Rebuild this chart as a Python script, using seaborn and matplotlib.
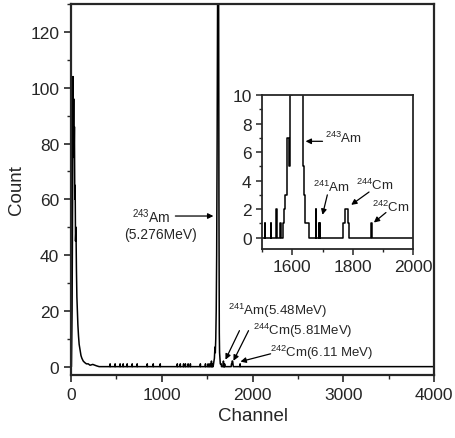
import numpy as np
import pandas as pd
import matplotlib
matplotlib.use("Agg")
import matplotlib.pyplot as plt
import seaborn as sns

# ============================================================
# Spectrum values
# ============================================================
# continuous parts (low-channel noise, 243Am peak, 244Cm group)
cont_channels = [0, 5, 12, 18, 22, 26, 30, 34, 38, 42, 46, 50, 55, 60, 65, 70,
                 76, 83, 90, 100, 110, 120, 135, 150, 170, 190, 210, 240, 280, 310,
                 1566, 1570, 1575, 1580, 1586, 1590, 1595, 1600, 1605, 1610, 1615,
                 1620, 1625, 1630, 1634, 1637, 1641, 1645, 1650, 1655, 1658,
                 1765, 1768, 1772, 1776, 1781, 1785, 1788, 4000]
cont_counts = [0, 0, 20, 60, 104, 80, 96, 75, 86, 60, 65, 45, 50, 35, 25, 20,
               15, 11, 8, 6, 4, 3, 2, 1.5, 1, 1, 0.5, 0.8, 0.3, 0,
               0, 1, 2, 3, 7, 5, 10, 20, 40, 80, 130,
               200, 170, 60, 12, 5, 3, 1, 1, 1, 0,
               0, 1, 1, 2, 2, 1, 0, 0]

# isolated single-channel counts
spike_channels = [431, 486, 541, 575, 619, 674, 729, 840, 906, 983, 1171, 1204,
                  1240, 1260, 1290, 1315, 1425, 1481, 1510, 1530, 1547, 1560,
                  1679, 1688, 1692, 1863]
spike_counts = [1, 1, 1, 1, 1, 1, 1, 1, 1, 1, 1, 1,
                1, 1, 1, 1, 1, 1, 1, 1, 2, 1,
                2, 1, 1, 1]

# ============================================================
# Build table (spikes sit on a zero baseline)
# ============================================================
rows = list(zip(cont_channels, cont_counts))
for c, n in zip(spike_channels, spike_counts):
    rows += [(c - 1.5, 0), (c - 0.5, n), (c + 0.5, n), (c + 1.5, 0)]
df = pd.DataFrame(rows, columns=["Channel", "Count"]).sort_values("Channel")

sns.set_style("ticks")
plt.rcParams["font.family"] = ["Liberation Sans", "DejaVu Sans"]
plt.rcParams["mathtext.fontset"] = "custom"
plt.rcParams["mathtext.rm"] = "Liberation Sans"
plt.rcParams["mathtext.it"] = "Liberation Sans"

fig = plt.figure(figsize=(4.55, 4.39), dpi=100)

# ------------------------------
# Main spectrum
# ------------------------------
ax = fig.add_axes([0.156, 0.1435, 0.798, 0.845])
sns.lineplot(data=df, x="Channel", y="Count", ax=ax, color="black", lw=1.1,
             sort=False, estimator=None)
ax.set_xlim(0, 4000)
ax.set_ylim(-3, 130)
ax.set_xticks(range(0, 4001, 1000))
ax.set_xticks(range(0, 4001, 500), minor=True)
ax.set_yticks(range(0, 121, 20))
ax.set_yticks(range(0, 131, 10), minor=True)
ax.tick_params(which="major", length=5, width=1.2, labelsize=12.5, direction="out")
ax.tick_params(which="minor", length=3, width=1, direction="out")
for s in ax.spines.values():
    s.set_visible(True)
    s.set_linewidth(1.6)
ax.set_xlabel("Channel", fontsize=13.5)
ax.set_ylabel("Count", fontsize=13.5)

arrow = dict(arrowstyle="-|>", lw=0.9, color="black", mutation_scale=8,
             shrinkA=0, shrinkB=0)
ax.text(884, 54, "$^{243}$Am", fontsize=10, ha="center", va="center")
ax.text(983, 47.5, "(5.276MeV)", fontsize=10, ha="center", va="center")
ax.annotate("", xy=(1569, 54), xytext=(1150, 54), arrowprops=arrow)

ax.text(1735, 20.3, "$^{241}$Am(5.48MeV)", fontsize=9.5, ha="left", va="center")
ax.text(2000, 13.0, "$^{244}$Cm(5.81MeV)", fontsize=9.5, ha="left", va="center")
ax.text(2188, 5.4, "$^{242}$Cm(6.11 MeV)", fontsize=9.5, ha="left", va="center")
ax.annotate("", xy=(1702, 2.5), xytext=(1856, 12.9), arrowprops=arrow)
ax.annotate("", xy=(1790, 2.1), xytext=(1956, 12.9), arrowprops=arrow)
ax.annotate("", xy=(1867, 1.8), xytext=(2199, 4.6), arrowprops=arrow)

# ------------------------------
# Inset: zoom on the alpha peaks
# ------------------------------
ins = fig.add_axes([0.576, 0.4305, 0.332, 0.3505])
sns.lineplot(data=df, x="Channel", y="Count", ax=ins, color="black", lw=1.1,
             sort=False, estimator=None, drawstyle="steps-mid")
ins.set_xlim(1500, 2000)
ins.set_ylim(-0.8, 10)
ins.set_xticks([1600, 1800, 2000])
ins.set_xticks(range(1500, 2001, 100), minor=True)
ins.set_yticks(range(0, 11, 2))
ins.set_yticks(range(0, 11, 1), minor=True)
ins.tick_params(which="major", length=4, width=1.1, labelsize=12.5, direction="out")
ins.tick_params(which="minor", length=2.5, width=1, direction="out")
for s in ins.spines.values():
    s.set_visible(True)
    s.set_linewidth(1.3)
ins.set_xlabel("")
ins.set_ylabel("")

ins.text(1707, 7.0, "$^{243}$Am", fontsize=9.5, ha="left", va="center")
ins.annotate("", xy=(1644, 6.76), xytext=(1700, 6.76), arrowprops=arrow)
ins.text(1667, 3.6, "$^{241}$Am", fontsize=9.5, ha="left", va="center")
ins.annotate("", xy=(1700, 1.6), xytext=(1716, 3.0), arrowprops=arrow)
ins.text(1811, 3.7, "$^{244}$Cm", fontsize=9.5, ha="left", va="center")
ins.annotate("", xy=(1795, 2.3), xytext=(1854, 3.2), arrowprops=arrow)
ins.text(1864, 2.2, "$^{242}$Cm", fontsize=9.5, ha="left", va="center")
ins.annotate("", xy=(1870, 1.06), xytext=(1910, 1.76), arrowprops=arrow)

fig.savefig("out.png", dpi=100)
